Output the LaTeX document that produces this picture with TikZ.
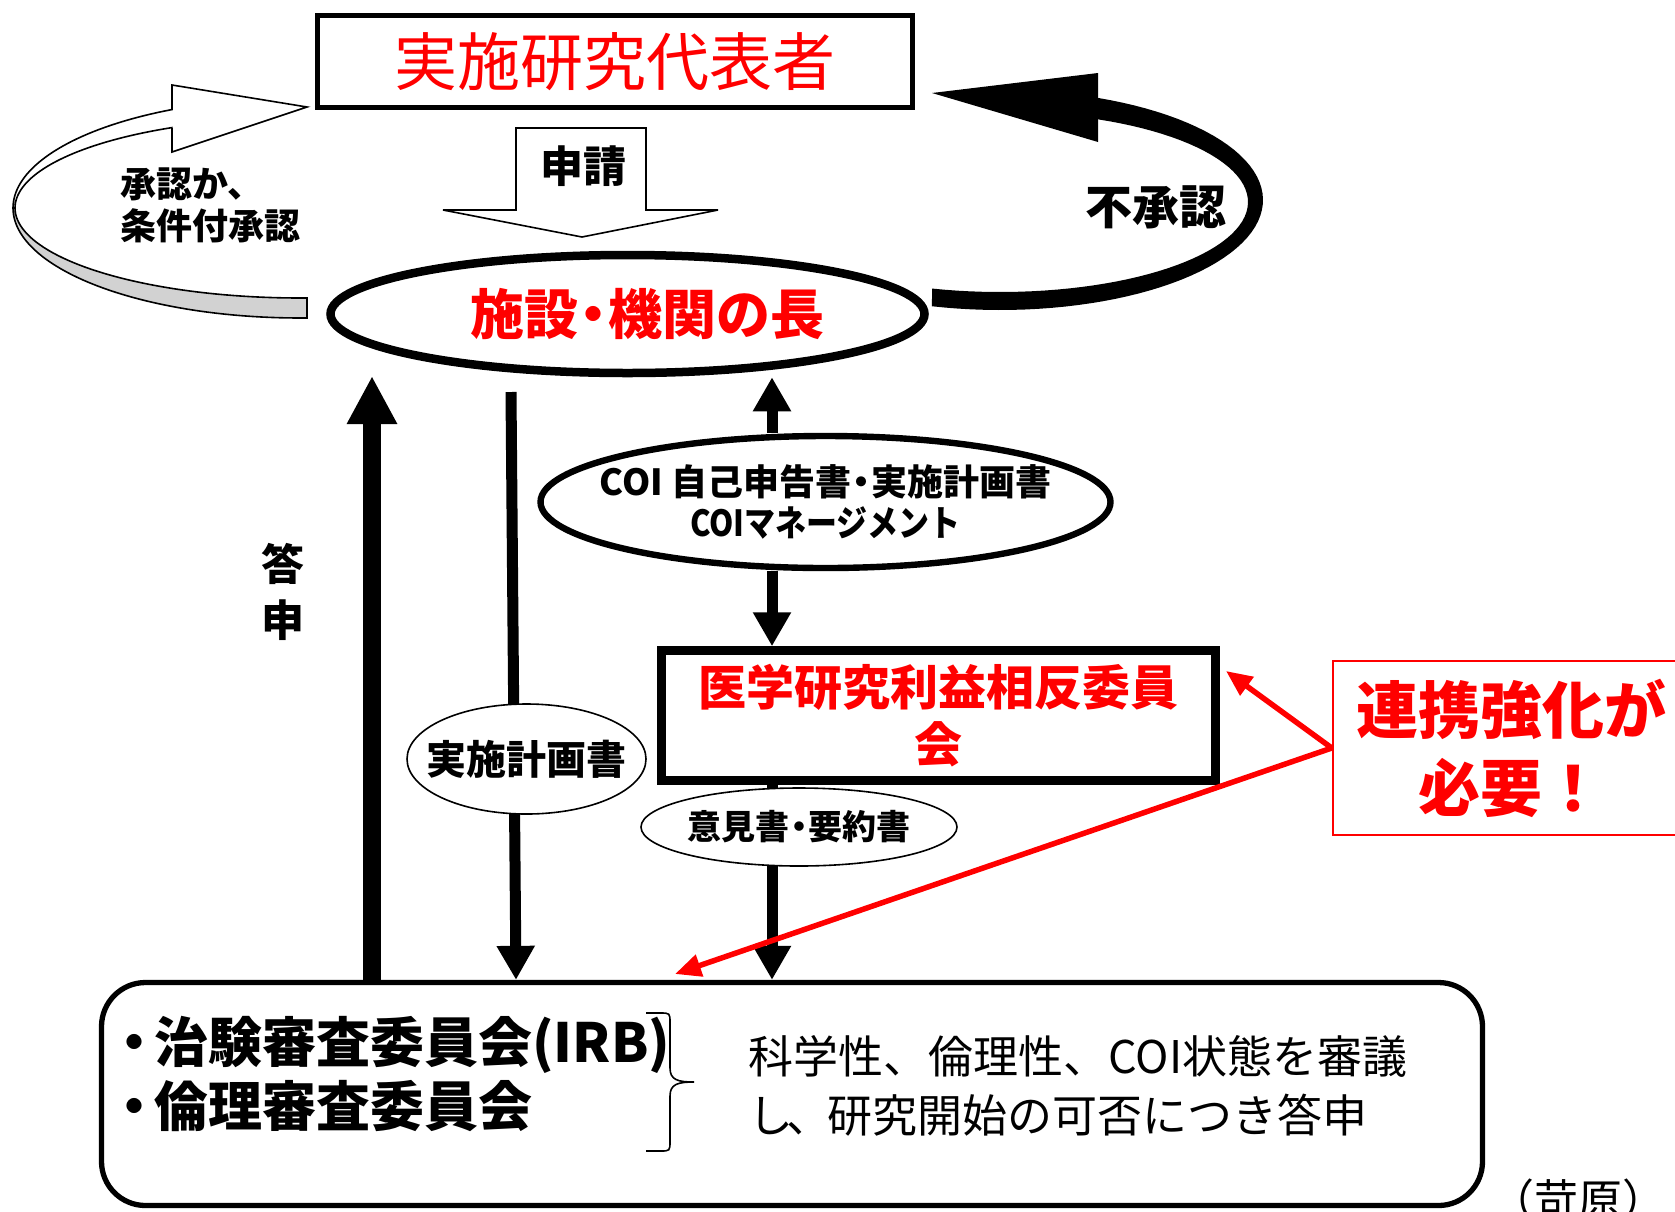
\documentclass[tikz,border=0pt]{standalone}
\usepackage{fontspec}
\setmainfont{Noto Sans CJK JP}
\usetikzlibrary{arrows.meta,shapes.geometric,calc}
\definecolor{ribbongray}{RGB}{210,210,210}
\newcommand{\ndot}{\kern-0.22em・\kern-0.22em}
\begin{document}
\begin{tikzpicture}[x=0.5pt,y=-0.5pt,
  arrA/.style={line width=5.5pt,-{Triangle[length=17pt,width=18pt]}},
  arrB/.style={line width=9pt,-{Triangle[length=24pt,width=23.5pt]}},
  redarr/.style={draw=red,line width=2.75pt,-{Triangle[length=13pt,width=11pt]},color=red},
  txt/.style={inner sep=0pt},
]
\useasboundingbox (0,0) rectangle (1675,1211);

% ---- left open ribbon arrow (approval) ----
\filldraw[fill=ribbongray,draw=black,line width=0.8pt]
  plot[domain=180:88.6,samples=50,variable=\t] ({300+287*cos(\t)},{208+110*sin(\t)})
  -- plot[domain=88.6:180,samples=50,variable=\t] ({300+285*cos(\t)},{208+90*sin(\t)})
  -- cycle;
\filldraw[fill=white,draw=black,line width=0.8pt]
  (307,107) -- (172,85)
  -- plot[domain=243.5:180,samples=40,variable=\t] ({300+287*cos(\t)},{208+110*sin(\t)})
  -- plot[domain=180:243.3,samples=40,variable=\t] ({300+285*cos(\t)},{208+90*sin(\t)})
  -- (172,152) -- cycle;

% ---- right black ring arrow (rejection) ----
\fill[black]
  plot[domain=105:-68.1,samples=60,variable=\t] ({1000+263*cos(\t)},{200+110*sin(\t)})
  -- plot[domain=-66.7:105.9,samples=60,variable=\t] ({1000+248*cos(\t)},{202+90*sin(\t)})
  -- cycle;
\fill[black] (1098,73) -- (932,93) -- (1098,142) -- cycle;

% ---- application open arrow ----
\draw[line width=0.8pt,fill=white]
  (516,128) -- (646,128) -- (646,210) -- (718,210) -- (582,237)
  -- (443,210) -- (516,210) -- cycle;

% ---- nodes ----
\node[draw,line width=2.5pt,minimum width=297.5pt,minimum height=46pt,inner sep=0pt,
  text=red,font=\fontsize{31.5pt}{36pt}\selectfont] (rep) at (615,61.5) {実施研究代表者};

\node[ellipse,draw,line width=4.25pt,minimum width=297pt,minimum height=59pt,inner sep=0pt,
  text=red,font=\bfseries\fontsize{27pt}{30pt}\selectfont] (head) at (627.5,314)
  {\hspace*{20pt}施設\ndot 機関の長};

\node[ellipse,draw,line width=3.2pt,minimum width=285pt,minimum height=66pt,
  inner xsep=-50pt,inner ysep=0pt,align=center,
  font=\bfseries\fontsize{18pt}{20.5pt}\selectfont] (coi) at (825.5,502)
  {COI 自己申告書\ndot 実施計画書\\\scalebox{0.86}[1]{COIマネージメント}};

\node[draw,line width=4.25pt,minimum width=277pt,minimum height=65pt,inner sep=0pt,
  align=center,text=red,font=\bfseries\fontsize{24pt}{28.5pt}\selectfont] (med) at (938.5,715.5)
  {医学研究利益相反委員\\会};

\node[draw,rounded corners=22pt,line width=2.65pt,minimum width=690.5pt,minimum height=111.5pt,
  inner sep=0pt] (irb) at (792,1094) {};

\node[draw=red,line width=1.25pt,minimum width=178.5pt,minimum height=87pt,inner sep=0pt,
  align=center,text=red,font=\bfseries\fontsize{31pt}{39pt}\selectfont] (need) at (1511.5,748)
  {連携強化が\\必要！};

% ---- helper coordinates ----
\coordinate (xc) at (772,0);
\coordinate (dtip) at (372,376);
\coordinate (ptop) at (511,392);
\coordinate (pbot) at (516,0);
\coordinate (t1) at (1226,671);
\coordinate (t2) at (675,974);

% ---- black connectors ----
\draw[arrA] (coi.north -| xc) -- (head.south -| xc);
\draw[arrA] (coi.south -| xc) -- (med.north -| xc);
\draw[arrA] (med.south -| xc) -- (irb.north -| xc);
\draw[arrA] (ptop) -- (irb.north -| pbot);
\draw[arrB] (irb.north -| dtip) -- (dtip);

% ---- label ellipses over connectors ----
\node[ellipse,draw,fill=white,line width=0.8pt,minimum width=119.5pt,minimum height=55pt,
  inner xsep=-15pt,inner ysep=0pt,font=\bfseries\fontsize{20pt}{24pt}\selectfont] (plan) at (526.5,759)
  {実施計画書};
\node[ellipse,draw,fill=white,line width=0.8pt,minimum width=158pt,minimum height=39pt,
  inner xsep=-15pt,inner ysep=0pt,font=\bfseries\fontsize{17pt}{20pt}\selectfont] (iken) at (799,827)
  {意見書\ndot 要約書};

% ---- red connectors ----
\draw[redarr] (need.west) -- (t1);
\draw[redarr] (need.west) -- (t2);

% ---- free texts ----
\node[txt,font=\bfseries\fontsize{21.5pt}{24pt}\selectfont] (shinsei) at (583,166) {申請};
\node[txt,anchor=west,align=left,font=\bfseries\fontsize{18pt}{21pt}\selectfont] (shonin) at (120,205)
  {承認か、\\条件付承認};
\node[txt,font=\bfseries\fontsize{23.5pt}{26pt}\selectfont] (fushonin) at (1156,207) {不承認};
\node[txt,align=center,font=\bfseries\fontsize{21.5pt}{28pt}\selectfont] (toshin) at (283,592) {答\\申};
\node[txt,anchor=west,align=left,font=\bfseries\fontsize{27pt}{32pt}\selectfont] (irbtext) at (128,1074)
  {\kern-0.38em・\kern-0.14em 治験審査委員会(IRB)\\\kern-0.38em・\kern-0.14em 倫理審査委員会};
\node[txt,anchor=west,align=left,font=\fontsize{22.5pt}{29.5pt}\selectfont] (desc) at (748,1086)
  {科学性、倫理性、COI状態を審議\\し\kern-0.15em、\kern-0.1em 研究開始の可否につき答申};
\node[txt,font=\fontsize{22pt}{26pt}\selectfont] (author) at (1578,1200) {（苛原）};

% ---- brace ----
\draw[line width=0.8pt] (646,1013) -- (660,1013) .. controls (670,1013) .. (670,1023)
  -- (670,1068) .. controls (670,1080) and (678,1082) .. (694,1082)
  .. controls (678,1082) and (670,1084) .. (670,1096)
  -- (670,1141) .. controls (670,1151) .. (660,1151) -- (646,1151);
\end{tikzpicture}
\end{document}
